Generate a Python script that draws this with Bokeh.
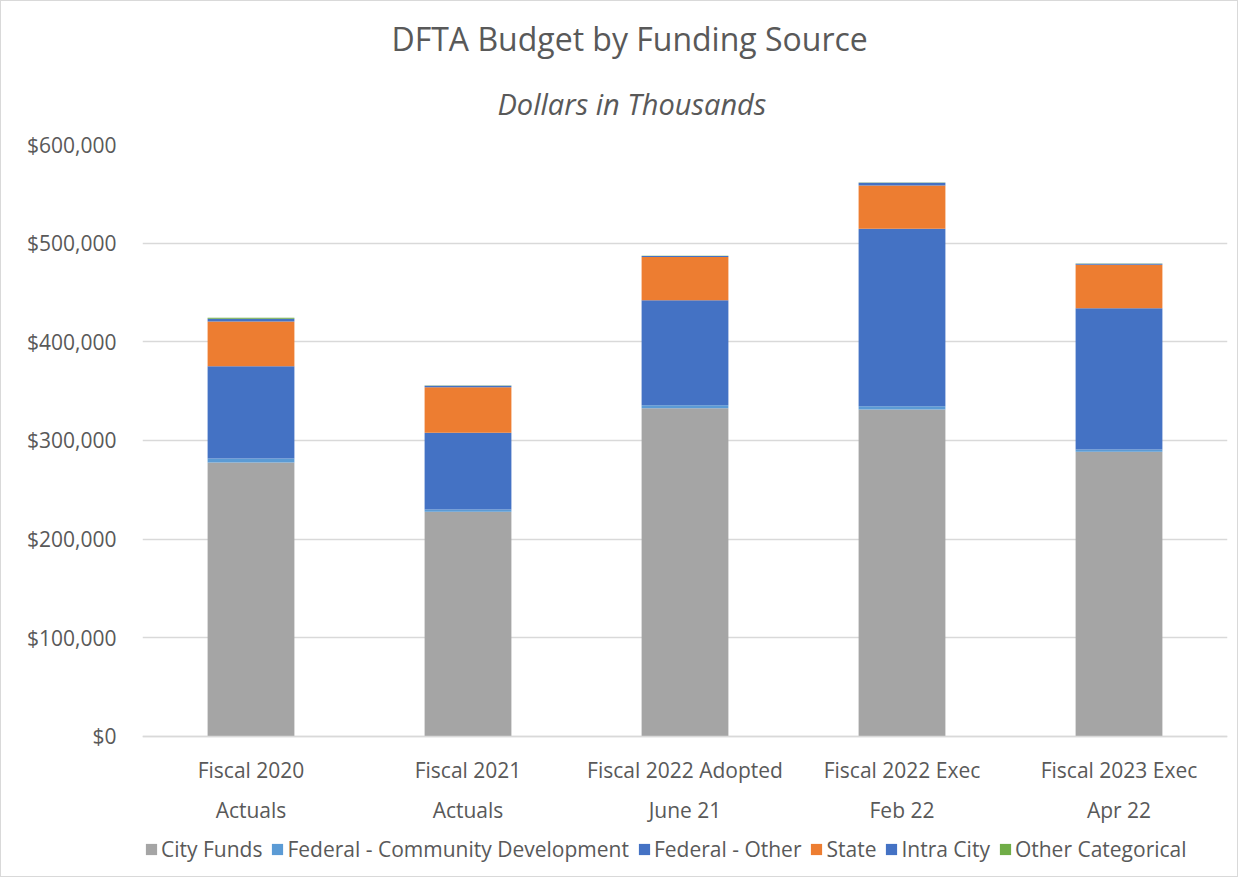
from bokeh.plotting import figure
from bokeh.models import ColumnDataSource, Title, NumeralTickFormatter, Legend, FixedTicker, Span
from bokeh.core.properties import value
from bokeh.embed import file_html
from bokeh.resources import INLINE

categories = ["Fiscal 2020\nActuals", "Fiscal 2021\nActuals", "Fiscal 2022 Adopted\nJune 21",
              "Fiscal 2022 Exec\nFeb 22", "Fiscal 2023 Exec\nApr 22"]
series = ["City Funds", "Federal - Community Development", "Federal - Other", "State",
          "Intra City", "Other Categorical"]
city_funds = [277700, 227700, 332700, 331400, 288500]
federal_cd = [4000, 2400, 3000, 3400, 2400]
federal_other = [93500, 77700, 106400, 179800, 143200]
state = [45300, 46200, 44000, 43900, 44000]
intra_city = [3000, 1500, 1000, 2700, 1000]
other_categorical = [1000, 300, 200, 200, 200]
colors = ["#A5A5A5", "#5B9BD5", "#4472C4", "#ED7D31", "#4472C4", "#70AD47"]
yticks = [0, 100000, 200000, 300000, 400000, 500000, 600000]

FONT = "Open Sans"
TXT = "#595959"

src = ColumnDataSource(dict(x=categories, **{
    "City Funds": city_funds,
    "Federal - Community Development": federal_cd,
    "Federal - Other": federal_other,
    "State": state,
    "Intra City": intra_city,
    "Other Categorical": other_categorical,
}))

# extra room below zero inside the frame holds the category labels and legend
y_bottom = -141900
p = figure(x_range=categories, y_range=(y_bottom, 600000), frame_width=1085, frame_height=732,
           output_backend="svg", toolbar_location=None,
           min_border_left=141, min_border_right=10, min_border_top=143, min_border_bottom=0)

renderers = p.vbar_stack(series, x="x", width=0.4, source=src, color=colors, line_width=0)

label_y = -19300
lab_src = ColumnDataSource(dict(x=categories, y=[label_y] * len(categories), t=categories))
p.text(x="x", y="y", text="t", source=lab_src, text_font=value(FONT),
       text_font_size=value("21px"), text_color=TXT, text_align="center",
       text_baseline="top", text_line_height=1.45)

p.add_layout(Span(location=0, dimension="width", line_color="#D9D9D9", line_width=1.5))

p.add_layout(Title(text="Dollars in Thousands", text_font=FONT, text_font_size="29px",
                   text_font_style="italic", text_color=TXT, align="left", offset=355,
                   standoff=44), "above")
p.add_layout(Title(text="DFTA Budget by Funding Source", text_font=FONT, text_font_size="32px",
                   text_font_style="normal", text_color=TXT, align="left", offset=249,
                   standoff=0), "above")

legend = Legend(items=[(s, [r]) for s, r in zip(series, renderers)], orientation="horizontal",
                location=(2, 13), label_text_font=FONT, label_text_font_size="21px",
                label_text_color=TXT, glyph_width=14, glyph_height=14, spacing=8,
                label_standoff=3, border_line_color=None, background_fill_alpha=0,
                margin=0, padding=0)
p.add_layout(legend)

p.yaxis.ticker = FixedTicker(ticks=yticks)
p.ygrid.ticker = FixedTicker(ticks=yticks)
p.yaxis.formatter = NumeralTickFormatter(format="$0,0")
p.yaxis.axis_line_color = None
p.yaxis.major_tick_line_color = None
p.yaxis.minor_tick_line_color = None
p.yaxis.major_label_text_font = FONT
p.yaxis.major_label_text_font_size = "21px"
p.yaxis.major_label_text_color = TXT
p.yaxis.major_label_standoff = 20

p.xaxis.visible = False

p.xgrid.grid_line_color = None
p.ygrid.grid_line_color = "#D9D9D9"
p.ygrid.grid_line_width = 1.5
p.outline_line_color = None
p.styles = {"border": "1px solid #D9D9D9"}

open("out.html", "w").write(file_html(p, INLINE))
